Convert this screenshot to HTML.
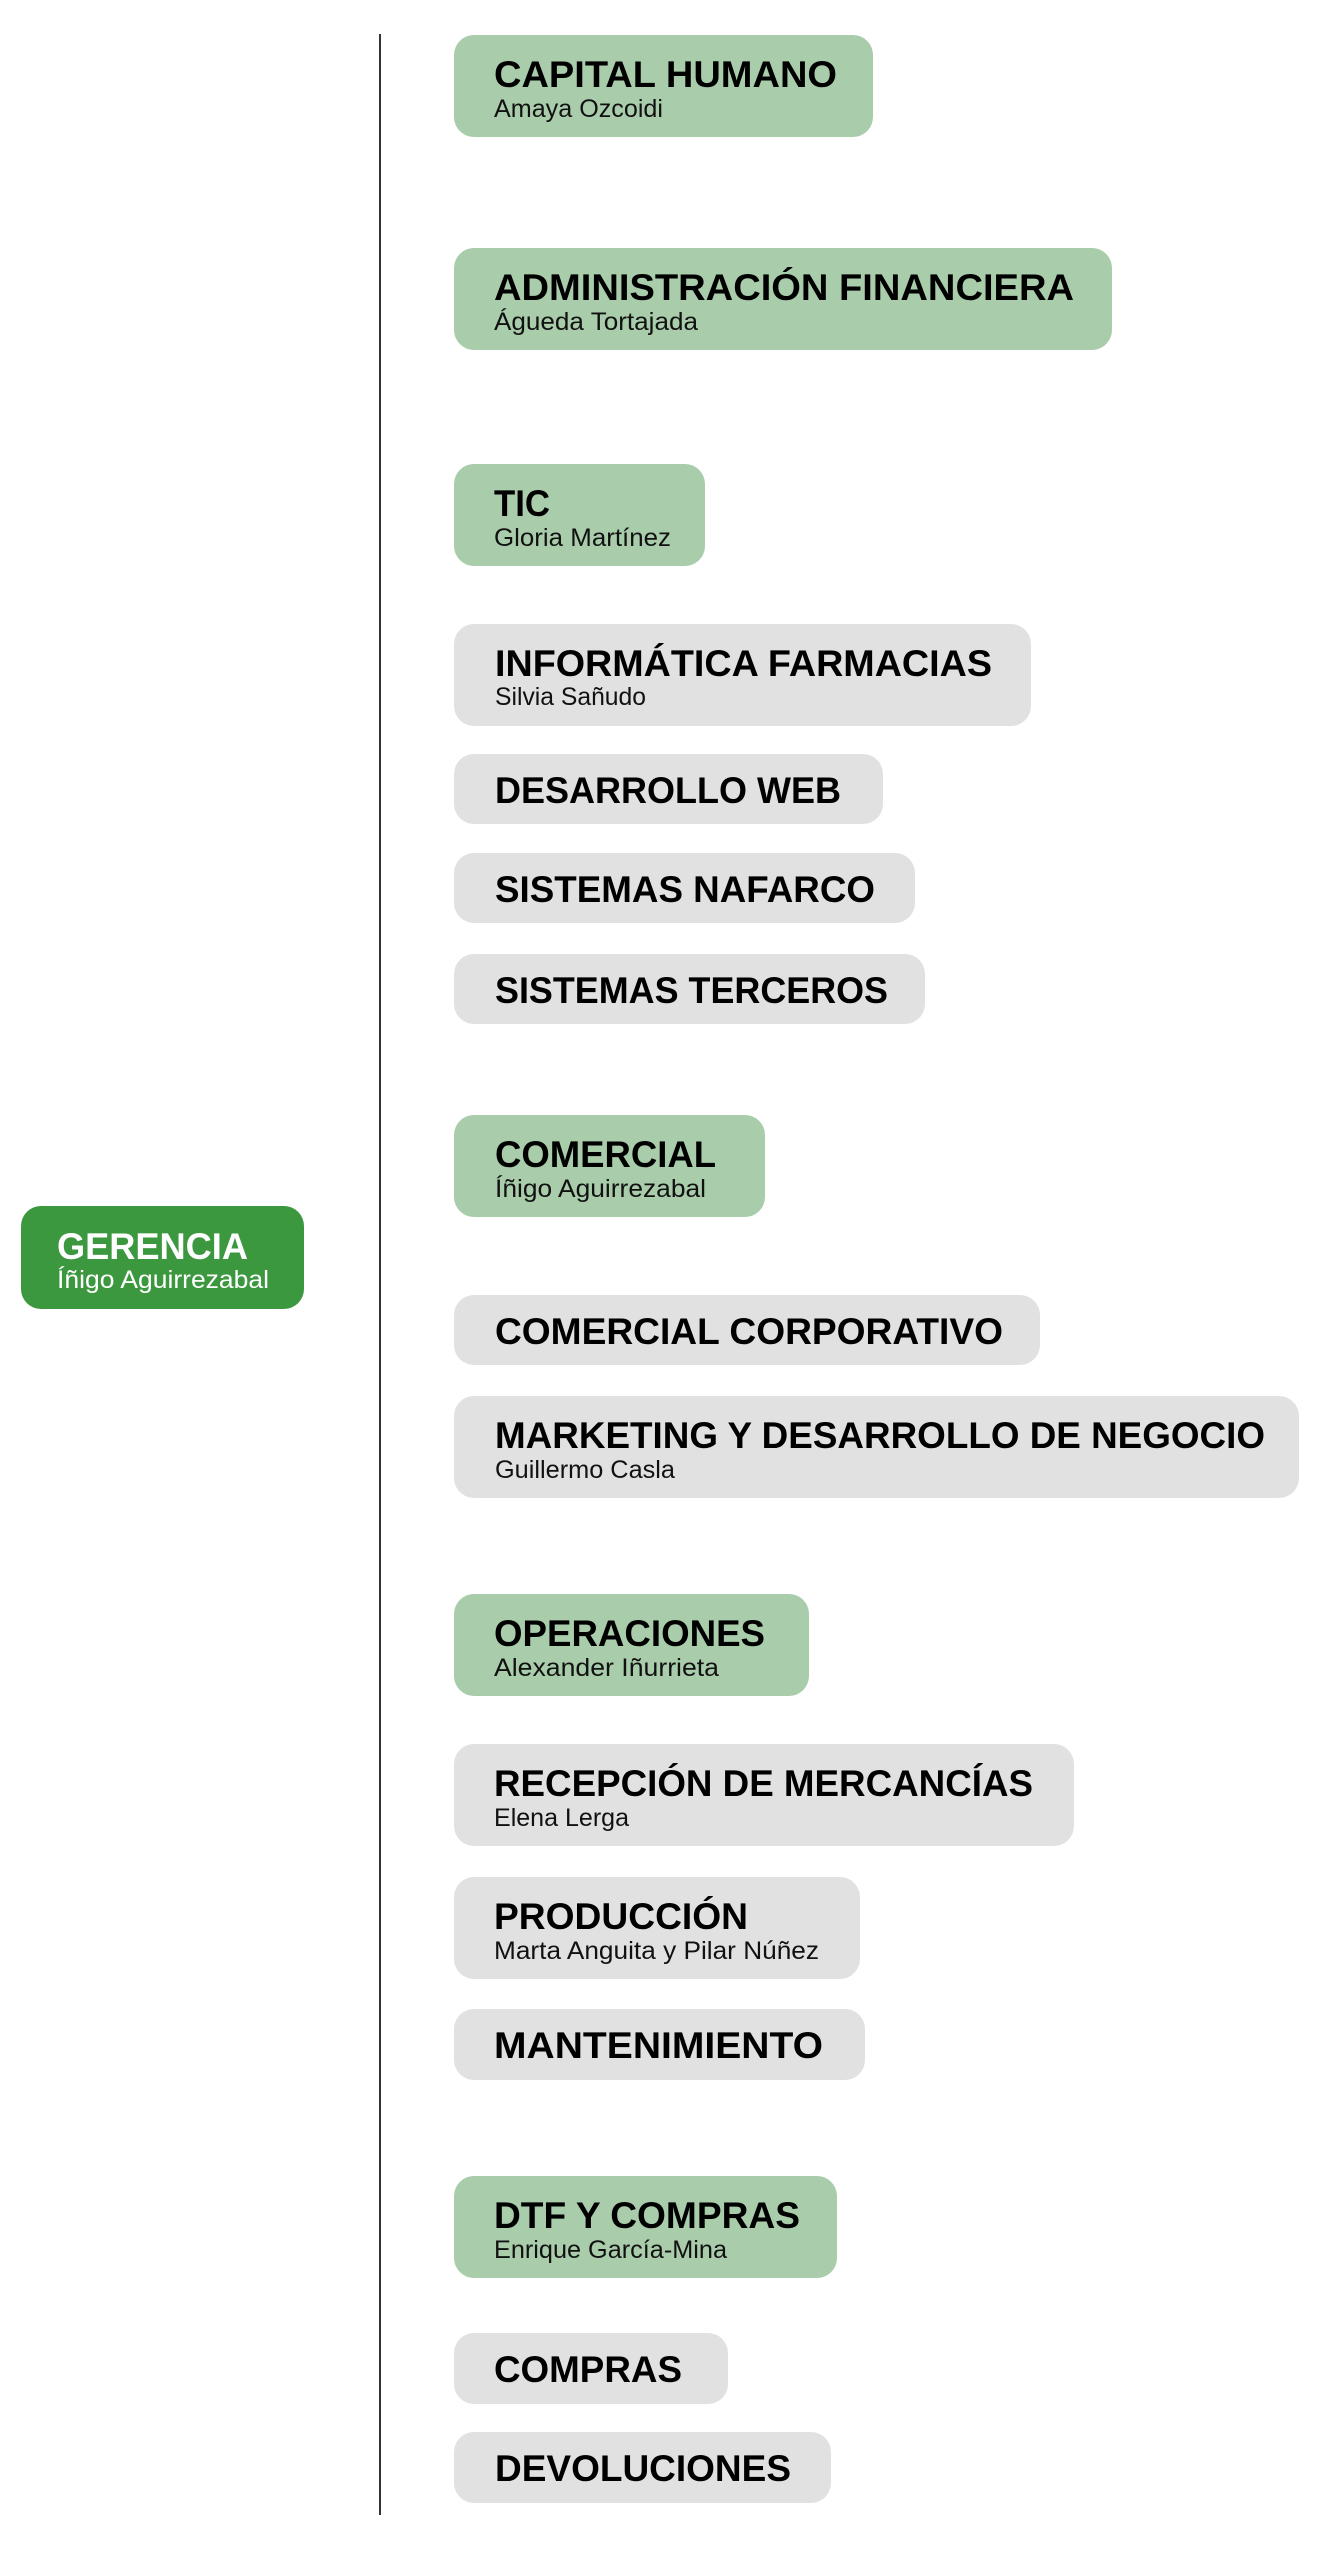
<!DOCTYPE html>
<html>
<head>
<meta charset="utf-8">
<style>
html,body{margin:0;padding:0;background:#fff;}
svg{display:block;}
.t{font-family:"Liberation Sans",sans-serif;font-weight:bold;font-size:37px;fill:#000;}
.n{font-family:"Liberation Sans",sans-serif;font-size:25px;fill:#111;}
.tw{font-family:"Liberation Sans",sans-serif;font-weight:bold;font-size:37px;fill:#fff;}
.nw{font-family:"Liberation Sans",sans-serif;font-size:25px;fill:#fff;}
.g{fill:#a9cdab;}
.x{fill:#e1e1e1;}
</style>
</head>
<body>
<svg width="1325" height="2560" viewBox="0 0 1325 2560" xmlns="http://www.w3.org/2000/svg">
<rect width="1325" height="2560" fill="#fff"/>
<line x1="380" y1="34" x2="380" y2="2515" stroke="#333" stroke-width="2"/>

<!-- GERENCIA -->
<rect x="21" y="1206" width="283" height="103" rx="20" fill="#3c983f"/>
<text class="tw" x="57" y="1259" textLength="191" lengthAdjust="spacingAndGlyphs">GERENCIA</text>
<text class="nw" x="57" y="1288" textLength="212" lengthAdjust="spacingAndGlyphs">Íñigo Aguirrezabal</text>

<!-- CAPITAL HUMANO -->
<rect class="g" x="454" y="35" width="419" height="102" rx="20"/>
<text class="t" x="494" y="87" textLength="343" lengthAdjust="spacingAndGlyphs">CAPITAL HUMANO</text>
<text class="n" x="494" y="117" textLength="169" lengthAdjust="spacingAndGlyphs">Amaya Ozcoidi</text>

<!-- ADMIN -->
<rect class="g" x="454" y="248" width="658" height="102" rx="20"/>
<text class="t" x="494" y="300" textLength="580" lengthAdjust="spacingAndGlyphs">ADMINISTRACIÓN FINANCIERA</text>
<text class="n" x="494" y="330" textLength="204" lengthAdjust="spacingAndGlyphs">Águeda Tortajada</text>

<!-- TIC -->
<rect class="g" x="454" y="464" width="251" height="102" rx="20"/>
<text class="t" x="494" y="516" textLength="56" lengthAdjust="spacingAndGlyphs">TIC</text>
<text class="n" x="494" y="546" textLength="177" lengthAdjust="spacingAndGlyphs">Gloria Martínez</text>

<!-- INFORMATICA -->
<rect class="x" x="454" y="624" width="577" height="102" rx="20"/>
<text class="t" x="495" y="676" textLength="497" lengthAdjust="spacingAndGlyphs">INFORMÁTICA FARMACIAS</text>
<text class="n" x="495" y="705" textLength="151" lengthAdjust="spacingAndGlyphs">Silvia Sañudo</text>

<!-- DESARROLLO WEB -->
<rect class="x" x="454" y="754" width="429" height="70" rx="20"/>
<text class="t" x="495" y="803" textLength="346" lengthAdjust="spacingAndGlyphs">DESARROLLO WEB</text>

<!-- SISTEMAS NAFARCO -->
<rect class="x" x="454" y="853" width="461" height="70" rx="20"/>
<text class="t" x="495" y="902" textLength="380" lengthAdjust="spacingAndGlyphs">SISTEMAS NAFARCO</text>

<!-- SISTEMAS TERCEROS -->
<rect class="x" x="454" y="954" width="471" height="70" rx="20"/>
<text class="t" x="495" y="1003" textLength="393" lengthAdjust="spacingAndGlyphs">SISTEMAS TERCEROS</text>

<!-- COMERCIAL -->
<rect class="g" x="454" y="1115" width="311" height="102" rx="20"/>
<text class="t" x="495" y="1167" textLength="221" lengthAdjust="spacingAndGlyphs">COMERCIAL</text>
<text class="n" x="495" y="1197" textLength="211" lengthAdjust="spacingAndGlyphs">Íñigo Aguirrezabal</text>

<!-- COMERCIAL CORPORATIVO -->
<rect class="x" x="454" y="1295" width="586" height="70" rx="20"/>
<text class="t" x="495" y="1344" textLength="508" lengthAdjust="spacingAndGlyphs">COMERCIAL CORPORATIVO</text>

<!-- MARKETING -->
<rect class="x" x="454" y="1396" width="845" height="102" rx="20"/>
<text class="t" x="495" y="1448" textLength="770" lengthAdjust="spacingAndGlyphs">MARKETING Y DESARROLLO DE NEGOCIO</text>
<text class="n" x="495" y="1478" textLength="180" lengthAdjust="spacingAndGlyphs">Guillermo Casla</text>

<!-- OPERACIONES -->
<rect class="g" x="454" y="1594" width="355" height="102" rx="20"/>
<text class="t" x="494" y="1646" textLength="271" lengthAdjust="spacingAndGlyphs">OPERACIONES</text>
<text class="n" x="494" y="1676" textLength="225" lengthAdjust="spacingAndGlyphs">Alexander Iñurrieta</text>

<!-- RECEPCION -->
<rect class="x" x="454" y="1744" width="620" height="102" rx="20"/>
<text class="t" x="494" y="1796" textLength="539" lengthAdjust="spacingAndGlyphs">RECEPCIÓN DE MERCANCÍAS</text>
<text class="n" x="494" y="1826" textLength="135" lengthAdjust="spacingAndGlyphs">Elena Lerga</text>

<!-- PRODUCCION -->
<rect class="x" x="454" y="1877" width="406" height="102" rx="20"/>
<text class="t" x="494" y="1929" textLength="254" lengthAdjust="spacingAndGlyphs">PRODUCCIÓN</text>
<text class="n" x="494" y="1959" textLength="325" lengthAdjust="spacingAndGlyphs">Marta Anguita y Pilar Núñez</text>

<!-- MANTENIMIENTO -->
<rect class="x" x="454" y="2009" width="411" height="71" rx="20"/>
<text class="t" x="494" y="2058" textLength="329" lengthAdjust="spacingAndGlyphs">MANTENIMIENTO</text>

<!-- DTF Y COMPRAS -->
<rect class="g" x="454" y="2176" width="383" height="102" rx="20"/>
<text class="t" x="494" y="2228" textLength="306" lengthAdjust="spacingAndGlyphs">DTF Y COMPRAS</text>
<text class="n" x="494" y="2258" textLength="233" lengthAdjust="spacingAndGlyphs">Enrique García-Mina</text>

<!-- COMPRAS -->
<rect class="x" x="454" y="2333" width="274" height="71" rx="20"/>
<text class="t" x="494" y="2382" textLength="188" lengthAdjust="spacingAndGlyphs">COMPRAS</text>

<!-- DEVOLUCIONES -->
<rect class="x" x="454" y="2432" width="377" height="71" rx="20"/>
<text class="t" x="495" y="2481" textLength="296" lengthAdjust="spacingAndGlyphs">DEVOLUCIONES</text>
</svg>
</body>
</html>
